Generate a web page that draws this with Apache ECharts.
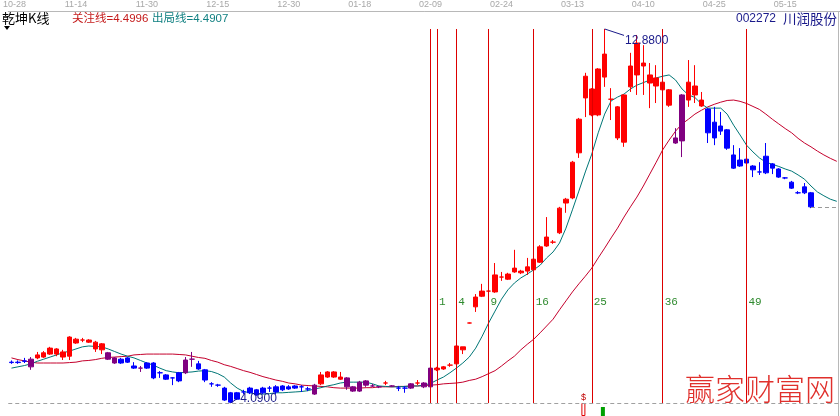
<!DOCTYPE html>
<html><head><meta charset="utf-8">
<script src="https://cdn.jsdelivr.net/npm/echarts@6/dist/echarts.min.js"></script>
<style>html,body{margin:0;padding:0;background:#fff}#c{width:840px;height:416px}</style>
</head><body><div id="c"></div>
<script>
// ---- data ----
const dateTickLabels = ['10-28','11-14','11-30','12-15','12-30','01-18','02-09','02-24','03-13','04-10','04-25','05-15'];
const dateTickIndex  = [0,10,21,32,43,54,65,76,87,98,109,120];

// [open, close, low, high]
const candleOHLC = [
[5.05,5.04,5.01,5.09],[5.05,5.04,5.01,5.09],[5.08,5.07,5.03,5.15],[5.12,4.94,4.87,5.17],[5.15,5.22,5.12,5.29],
[5.17,5.27,5.15,5.31],[5.24,5.38,5.22,5.41],[5.24,5.36,5.19,5.38],[5.17,5.29,5.10,5.34],[5.19,5.64,5.10,5.66],
[5.50,5.59,5.48,5.62],[5.57,5.57,5.52,5.62],[5.52,5.57,5.50,5.59],[5.52,5.36,5.29,5.55],[5.48,5.34,5.24,5.50],
[5.27,5.12,5.10,5.29],[5.15,5.03,5.01,5.17],[5.12,5.03,5.01,5.15],[5.15,5.05,5.03,5.17],[4.96,4.91,4.89,5.05],
[4.91,4.91,4.82,4.96],[5.03,4.91,4.89,5.05],[5.03,4.68,4.65,5.05],[4.80,4.80,4.68,4.84],[4.75,4.65,4.63,4.77],
[4.68,4.68,4.51,4.70],[4.80,4.61,4.58,4.82],[4.80,5.10,4.77,5.17],[5.12,5.12,4.94,5.29],[5.01,4.89,4.87,5.08],
[4.87,4.63,4.58,4.89],[4.54,4.54,4.47,4.58],[4.51,4.51,4.47,4.54],[4.44,4.16,4.14,4.47],[4.33,4.11,4.09,4.35],
[4.18,4.33,4.16,4.35],[4.35,4.35,4.30,4.40],[4.33,4.44,4.30,4.47],[4.40,4.28,4.26,4.42],[4.33,4.44,4.30,4.47],
[4.44,4.44,4.35,4.49],[4.35,4.47,4.30,4.51],[4.40,4.49,4.37,4.51],[4.42,4.47,4.40,4.51],[4.44,4.49,4.42,4.51],
[4.47,4.47,4.35,4.51],[4.42,4.42,4.37,4.47],[4.30,4.51,4.28,4.54],[4.54,4.75,4.51,4.82],[4.70,4.82,4.68,4.84],
[4.70,4.82,4.68,4.84],[4.70,4.65,4.63,4.82],[4.68,4.47,4.40,4.70],[4.47,4.37,4.35,4.49],[4.37,4.58,4.35,4.61],
[4.61,4.51,4.47,4.63],[4.49,4.49,4.47,4.54],[4.47,4.47,4.44,4.49],[4.56,4.56,4.51,4.61],[4.49,4.49,4.47,4.51],
[4.44,4.44,4.37,4.49],[4.44,4.44,4.33,4.49],[4.44,4.54,4.42,4.56],[4.56,4.56,4.51,4.63],[4.56,4.47,4.44,4.58],
[4.47,4.91,4.44,4.94],[4.87,4.91,4.84,4.94],[4.89,4.94,4.87,4.96],[4.98,4.98,4.94,5.03],[5.01,5.43,4.98,5.45],
[5.34,5.41,5.24,5.41],[5.97,5.97,5.96,5.98],[6.35,6.58,6.23,6.65],[6.60,6.72,6.58,6.89],[6.72,6.72,6.68,6.77],
[6.70,7.10,6.68,7.38],[7.05,7.05,6.96,7.17],[7.00,7.12,6.98,7.15],[7.17,7.26,7.15,7.69],[7.15,7.19,7.12,7.22],
[7.19,7.29,7.10,7.50],[7.22,7.47,7.19,7.52],[7.40,7.76,7.38,7.80],[7.78,7.99,7.76,8.46],[7.87,7.87,7.83,7.92],
[8.09,8.67,8.06,8.70],[8.79,8.88,8.56,8.91],[8.91,9.75,8.88,9.78],[9.97,10.76,9.85,10.79],[11.26,11.77,10.81,11.85],
[11.47,10.86,10.83,11.49],[10.86,11.94,10.83,11.96],[11.75,12.29,11.52,12.88],[11.23,11.23,10.74,11.49],[11.05,10.32,10.27,11.07],
[10.22,11.33,10.11,11.35],[11.52,12.01,11.40,12.32],[11.80,12.55,11.33,12.74],[12.08,12.01,11.33,12.50],[11.80,11.61,11.02,12.08],
[11.54,11.73,11.14,12.03],[11.63,11.45,11.05,12.08],[11.45,11.09,11.05,11.47],[10.20,10.32,10.18,10.55],[10.25,11.33,9.87,11.35],
[11.21,11.63,11.05,12.15],[11.54,11.33,11.14,12.03],[11.21,11.07,11.05,11.40],[11.00,10.44,10.20,11.02],[10.69,10.32,10.15,11.05],
[10.60,10.48,10.39,10.93],[10.51,10.08,10.04,10.53],[9.92,9.61,9.59,10.15],[9.80,9.66,9.64,10.08],[9.82,9.73,9.61,10.15],
[9.66,9.57,9.40,9.68],[9.52,9.52,9.45,9.75],[9.50,9.89,9.47,10.20],[9.71,9.61,9.47,9.73],[9.59,9.40,9.38,9.61],
[9.38,9.38,9.35,9.40],[9.28,9.14,9.12,9.31],[9.03,9.03,9.00,9.07],[9.03,9.17,9.00,9.26],[9.03,8.70,8.67,9.05]
];
// r = above (red), b = below (blue), p = transition (purple)
const candleState = 'bbbp' + 'rrrrrrrrrrr' + 'pp' + 'bbb' + 'p' + 'bbbbbb' + 'pp' + 'bbbbbbbbbbbbbbbbbb' + 'p' +
  'rrrr' + 'pppppp' + 'r' + 'p' + 'bb' + 'p' + 'r' + 'pp' + 'rrrrrrrrrrrrrrrrrrrrrrrrrrrrrrrrrrrrr' + 'pp' + 'rrr' + 'bbbbbbbbbbbbbbbbb';

// 关注线 (long line, crimson)
const lineAttention = [
5.15,5.11,5.08,5.05,5.03,5.03,5.03,5.03,5.03,5.04,
5.05,5.08,5.09,5.11,5.14,5.16,5.17,5.18,5.19,5.22,
5.23,5.24,5.24,5.24,5.24,5.24,5.23,5.22,5.19,5.16,
5.14,5.09,5.05,4.99,4.95,4.90,4.85,4.81,4.76,4.71,
4.67,4.63,4.60,4.56,4.54,4.51,4.50,4.49,4.48,4.47,
4.45,4.44,4.44,4.44,4.44,4.45,4.45,4.47,4.47,4.47,
4.48,4.48,4.49,4.49,4.50,4.51,4.52,4.54,4.55,4.56,
4.58,4.62,4.65,4.71,4.78,4.85,4.96,5.08,5.19,5.34,
5.47,5.59,5.74,5.90,6.06,6.28,6.49,6.70,6.89,7.07,
7.26,7.50,7.73,7.97,8.20,8.46,8.70,8.93,9.19,9.47,
9.75,10.04,10.27,10.48,10.65,10.76,10.88,10.97,11.05,11.11,
11.16,11.20,11.21,11.18,11.13,11.06,10.99,10.88,10.76,10.65,
10.54,10.44,10.31,10.20,10.11,10.01,9.92,9.84,9.77
];
// 出局线 (short line, teal)
const lineExit = [
4.91,4.94,4.97,5.01,5.07,5.12,5.17,5.22,5.27,5.31,
5.36,5.41,5.43,5.42,5.41,5.36,5.30,5.24,5.19,5.15,
5.09,5.03,4.98,4.91,4.85,4.82,4.80,4.81,4.82,4.84,
4.85,4.83,4.78,4.70,4.56,4.44,4.36,4.33,4.30,4.30,
4.31,4.33,4.33,4.34,4.35,4.36,4.38,4.42,4.45,4.49,
4.52,4.56,4.58,4.58,4.58,4.58,4.54,4.49,4.48,4.47,
4.47,4.48,4.49,4.49,4.51,4.55,4.63,4.70,4.80,4.91,
5.03,5.17,5.38,5.66,5.97,6.25,6.53,6.75,6.91,7.03,
7.12,7.22,7.33,7.50,7.64,7.85,8.20,8.63,9.07,9.52,
9.94,10.44,10.88,11.19,11.28,11.35,11.47,11.56,11.62,11.68,
11.73,11.77,11.80,11.68,11.47,11.33,11.27,11.12,11.02,11.02,
11.02,10.88,10.62,10.39,10.15,9.99,9.85,9.75,9.70,9.65,
9.59,9.54,9.45,9.35,9.19,9.05,8.96,8.88,8.83
];
const fibStartIndex = 65;
const fibDays = [0,1,4,9,16,25,36,49];
const lowerBarIndex = [89, 92];
const lowerBarValue = [13, 9];
const lowerBarKind  = ['sell','buy'];

// ---- build ----
const N = lineExit.length;
const categories = Array.from({length:N}, (_, i) => {
  const k = dateTickIndex.indexOf(i); return k >= 0 ? dateTickLabels[k] : '';
});
const stateColor = {r:'#ff0000', b:'#0000ff', p:'#800080'};
const candleData = candleOHLC.map((v,i) => {
  const c = stateColor[candleState[i]];
  return {value:v, itemStyle:{color:c, color0:c, borderColor:c, borderColor0:c, borderColorDoji:c}};
});
let maxHigh = -Infinity, iMax = 0, minLow = Infinity, iMin = 0;
candleOHLC.forEach((v,i) => { if (v[3] > maxHigh) {maxHigh = v[3]; iMax = i;} if (v[2] < minLow) {minLow = v[2]; iMin = i;} });
const lastIdx = candleOHLC.length - 1;
const lastClose = candleOHLC[lastIdx][1];

const lowerData = categories.map(() => '-');
lowerBarIndex.forEach((idx,k) => {
  lowerData[idx] = lowerBarKind[k] === 'sell'
    ? {value: lowerBarValue[k], itemStyle:{color:'#ffffff', borderColor:'#e00000', borderWidth:1},
       label:{show:true, position:'top', formatter:'$', color:'#c00000', fontSize:9, distance:1}}
    : {value: lowerBarValue[k], itemStyle:{color:'#00a000'}};
});

const chart = echarts.init(document.getElementById('c'), null, {renderer:'canvas'});
const navy = '#1a1a8a';
chart.setOption({
  animation: false,
  backgroundColor: '#ffffff',
  grid: [
    {left:2, right:0, top:11, bottom:0},
    {left:2, right:0, top:403, bottom:0}
  ],
  xAxis: [
    {type:'category', data:categories, position:'top', boundaryGap:true,
     axisLine:{show:true, lineStyle:{color:'#b8b8b8', width:1}}, axisTick:{show:false},
     splitLine:{show:false},
     axisLabel:{interval:0, color:'#a8a8a8', fontSize:9, margin:2, fontFamily:'Liberation Sans',
       formatter:(v,i) => i === 0 ? '{a|' + v + '}' : v,
       rich:{a:{color:'#a8a8a8', fontSize:9, fontFamily:'Liberation Sans', padding:[0,0,0,6]}}}},
    {type:'category', data:categories, gridIndex:1, show:false, boundaryGap:true}
  ],
  yAxis: [
    {type:'value', min:3.7845, max:13.303, show:false, splitLine:{show:false}},
    {type:'value', gridIndex:1, min:0, max:13, show:false, splitLine:{show:false}}
  ],
  series: [
    {type:'line', name:'关注线', data:lineAttention, symbol:'none', z:2,
     lineStyle:{color:'#c4002c', width:1}},
    {type:'line', name:'出局线', data:lineExit, symbol:'none', z:2,
     lineStyle:{color:'#007676', width:1}},
    {type:'candlestick', name:'K', data:candleData, barWidth:5, z:3,
     markLine:{silent:true, symbol:['none','none'], animation:false, z:5,
       label:{show:false},
       data:[
         ...fibDays.map(d => [{coord:[fibStartIndex+d, maxHigh], lineStyle:{color:'#dd0000', width:1, type:'solid'}},
                              {coord:[fibStartIndex+d, minLow]}]),
         [{coord:[lastIdx, lastClose], lineStyle:{color:'#999999', width:1, type:[4,3]}}, {coord:[N-1, lastClose]}],
         [{coord:[iMax, maxHigh], lineStyle:{color:navy, width:1, type:'solid'}}, {coord:[iMax+3, maxHigh-0.15]}],
         [{coord:[iMin, minLow], lineStyle:{color:navy, width:1, type:'solid'}}, {coord:[iMin+1, minLow+0.1]}],
         {yAxis:minLow, lineStyle:{color:'#a0a0a0', width:1, type:[4,3]}}
       ]},
     markPoint:{silent:true, symbol:'circle', symbolSize:0, animation:false,
       label:{show:true, position:'right', distance:1, color:navy, fontSize:12, fontFamily:'Liberation Sans', formatter:'{c}'},
       data:[
         {coord:[iMax+3, maxHigh-0.15], value:maxHigh.toFixed(4), label:{offset:[0,5]}},
         {coord:[iMin+1, minLow+0.1], value:minLow.toFixed(4), label:{offset:[2,0]}}
       ]}
    },
    {type:'bar', xAxisIndex:1, yAxisIndex:1, data:lowerData, barWidth:4, z:2}
  ]
});

// ---- text overlays ----
const cjk = '"Liberation Sans", "Noto Sans CJK SC", sans-serif';
const graphics = [
  {type:'text', left:2, top:12, style:{text:'乾坤K线', fill:'#000000', font:'13px "Noto Sans CJK SC", sans-serif'}},
  {type:'polygon', shape:{points:[[4,26],[10,26],[7,30]]}, style:{fill:'#000000'}},
  {type:'text', left:72, top:13, style:{text:'关注线=4.4996', fill:'#c41a1a', font:'11.5px ' + cjk}},
  {type:'text', left:152, top:13, style:{text:'出局线=4.4907', fill:'#0f7f80', font:'11.5px ' + cjk}},
  {type:'text', left:736, top:13, style:{text:'002272', fill:navy, font:'12px "Liberation Sans", sans-serif'}},
  {type:'text', right:3, top:12, style:{text:'川润股份', fill:navy, font:'13.5px "Noto Sans CJK SC", sans-serif'}},
  {type:'line', shape:{x1:838.5, y1:11, x2:838.5, y2:416}, style:{stroke:'#b8b8b8', lineWidth:1}},
  {type:'text', left:685, top:374, z:10, style:{text:'赢家财富网', fill:'#e0302c', font:'300 30px "Noto Sans CJK SC", sans-serif'}}
];
fibDays.filter(d => d > 0).forEach(d => {
  const p = chart.convertToPixel({gridIndex:0}, [fibStartIndex + d, minLow]);
  graphics.push({type:'text', left:p[0] + 2, top:297, z:10,
    style:{text:String(d), fill:'#2e8a2e', font:'11px "Liberation Mono", "DejaVu Sans Mono", monospace'}});
});
chart.setOption({graphic: graphics});
</script>
</body></html>
